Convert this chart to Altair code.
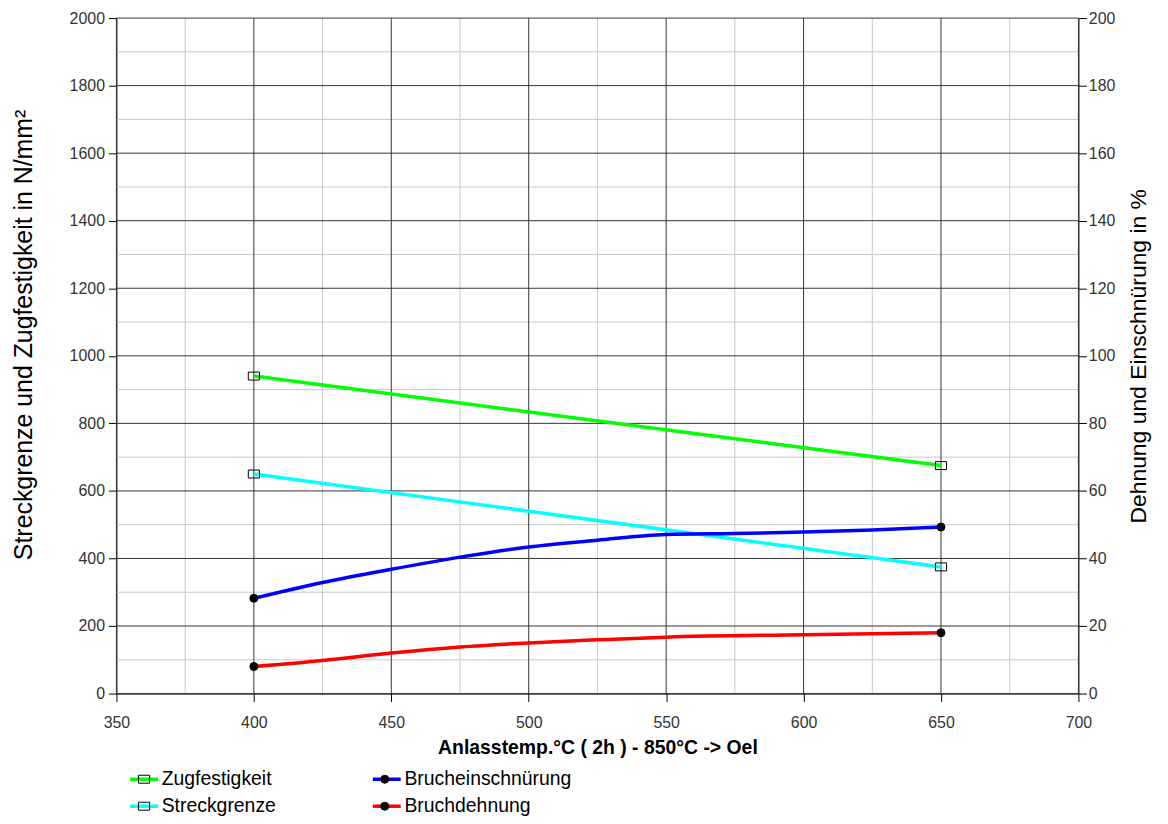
import altair as alt
import pandas as pd

# ---------------- data ----------------
series_order = ["Zugfestigkeit", "Streckgrenze", "Brucheinschnürung", "Bruchdehnung"]
series_colors = ["#00ff00", "#00ffff", "#0000ff", "#ff0000"]

zug_temp = [400, 650]
zug_values = [940, 675]
streck_temp = [400, 650]
streck_values = [650, 375]

einschn_temp = [400, 425, 450, 475, 500, 525, 550, 575, 600, 625, 650]
einschn_values = [28.2, 32.9, 36.8, 40.4, 43.4, 45.4, 47.1, 47.4, 47.8, 48.4, 49.3]
dehnung_temp = [400, 425, 450, 475, 500, 525, 550, 600, 650]
dehnung_values = [8.0, 9.8, 12.0, 13.8, 15.0, 15.9, 16.7, 17.4, 18.0]

x_ticks = [350, 375, 400, 425, 450, 475, 500, 525, 550, 575, 600, 625, 650, 675, 700]
x_labels = [350, 400, 450, 500, 550, 600, 650, 700]
left_ticks = [0, 100, 200, 300, 400, 500, 600, 700, 800, 900, 1000, 1100, 1200, 1300,
              1400, 1500, 1600, 1700, 1800, 1900, 2000]
left_labels = [0, 200, 400, 600, 800, 1000, 1200, 1400, 1600, 1800, 2000]
right_labels = [0, 20, 40, 60, 80, 100, 120, 140, 160, 180, 200]

x_title = "Anlasstemp.°C ( 2h ) - 850°C -> Oel"
left_title = "Streckgrenze und Zugfestigkeit in N/mm²"
right_title = "Dehnung und Einschnürung in %"

# ---------------- tables ----------------
def rows(name, ts, vs):
    return [{"series": name, "temp": t, "value": v} for t, v in zip(ts, vs)]

left_df = pd.DataFrame(rows("Zugfestigkeit", zug_temp, zug_values)
                       + rows("Streckgrenze", streck_temp, streck_values))
right_df = pd.DataFrame(rows("Brucheinschnürung", einschn_temp, einschn_values)
                        + rows("Bruchdehnung", dehnung_temp, dehnung_values))

def ends(name, ts, vs):
    # marker key carries a trailing space so its legend is kept apart from the line legend
    return [{"marker": name + " ", "temp": ts[i], "value": vs[i]} for i in (0, -1)]

left_mk = pd.DataFrame(ends("Zugfestigkeit", zug_temp, zug_values)
                       + ends("Streckgrenze", streck_temp, streck_values))
right_mk = pd.DataFrame(ends("Brucheinschnürung", einschn_temp, einschn_values)
                        + ends("Bruchdehnung", dehnung_temp, dehnung_values))

minor_x = pd.DataFrame({"g": [t for t in x_ticks if t not in x_labels]})
major_x = pd.DataFrame({"g": x_labels})
minor_y = pd.DataFrame({"g": [t for t in left_ticks if t not in left_labels]})
major_y = pd.DataFrame({"g": left_labels})

marker_domain = [s + " " for s in series_order]
rect_path = "M-1.4,-1H1.4V1H-1.4Z"
shape_range = [rect_path, rect_path, "circle", "circle"]
fill_range = ["transparent", "transparent", "black", "black"]
stroke_range = ["black", "black", "black", "black"]

FONT = "Liberation Sans"
MAJOR = "#333333"
MINOR = "#c8c8c8"

x_scale = alt.Scale(domain=[350, 700], nice=False, zero=False)
left_scale = alt.Scale(domain=[0, 2000], nice=False)
right_scale = alt.Scale(domain=[0, 200], nice=False)

x_axis = alt.Axis(
    values=x_labels,
    format="d",
    grid=False,
    tickSize=8,
    labelFlush=False,
    title=x_title,
    titleFontWeight="bold",
    titleFontSize=19.5,
    titlePadding=8,
    labelPadding=13,
)
left_axis = alt.Axis(
    values=left_labels,
    format="d",
    grid=False,
    tickSize=8,
    labelFlush=False,
    title=left_title,
    titleFontSize=25,
    titleFontWeight="normal",
    titlePadding=33,
    titleY=318,
    labelPadding=4,
)
right_axis = alt.Axis(
    orient="right",
    values=right_labels,
    format="d",
    grid=False,
    tickSize=8,
    labelFlush=False,
    title=right_title,
    titleAngle=270,
    titleBaseline="top",
    titleFontSize=23,
    titleFontWeight="normal",
    titlePadding=13,
    labelPadding=2,
)

line_legend = alt.Legend(
    orient="none", legendX=8, legendY=755, columns=2, direction="vertical",
    title=None, symbolType="M-3.5,0H3.5", symbolSize=64, symbolStrokeWidth=3.5,
    symbolOffset=10, labelOffset=8, labelFontSize=19.5, labelFont=FONT, labelColor="black",
    labelLimit=400, rowPadding=6.5, columnPadding=89, padding=0, offset=0,
)
marker_legend = alt.Legend(
    orient="none", legendX=8, legendY=755, columns=2, direction="vertical",
    title=None, symbolSize=64, symbolStrokeWidth=1, symbolStrokeColor="black",
    symbolOffset=10, labelOffset=8, labelFontSize=19.5, labelFont=FONT,
    labelExpr="trim(datum.label)", labelOpacity=0, labelLimit=400,
    rowPadding=6.5, columnPadding=89, padding=0, offset=0,
)

color_enc = alt.Color("series:N", scale=alt.Scale(domain=series_order, range=series_colors),
                      legend=line_legend)
shape_enc = alt.Shape("marker:N", scale=alt.Scale(domain=marker_domain, range=shape_range),
                      legend=marker_legend)
fill_enc = alt.Fill("marker:N", scale=alt.Scale(domain=marker_domain, range=fill_range),
                    legend=marker_legend)
stroke_enc = alt.Stroke("marker:N", scale=alt.Scale(domain=marker_domain, range=stroke_range),
                        legend=marker_legend)

X_T = alt.X("temp:Q", scale=x_scale, axis=x_axis)
X_G = alt.X("g:Q", scale=x_scale, axis=x_axis)
YL_V = alt.Y("value:Q", scale=left_scale, axis=left_axis)
YL_G = alt.Y("g:Q", scale=left_scale, axis=left_axis)
YR_V = alt.Y("value:Q", scale=right_scale, axis=right_axis)

grid_minor_x = alt.Chart(minor_x).mark_rule(color=MINOR, strokeWidth=1).encode(x=X_G)
grid_major_x = alt.Chart(major_x).mark_rule(color=MAJOR, strokeWidth=1).encode(x=X_G)
grid_minor_y = alt.Chart(minor_y).mark_rule(color=MINOR, strokeWidth=1).encode(y=YL_G)
grid_major_y = alt.Chart(major_y).mark_rule(color=MAJOR, strokeWidth=1).encode(y=YL_G)

left_lines = alt.Chart(left_df).mark_line(strokeWidth=3.5).encode(
    x=X_T, y=YL_V, color=color_enc)
left_points = alt.Chart(left_mk).mark_point(size=64, strokeWidth=1, opacity=1).encode(
    x=X_T, y=YL_V, shape=shape_enc, fill=fill_enc, stroke=stroke_enc)
right_lines = alt.Chart(right_df).mark_line(strokeWidth=3.5, interpolate="monotone").encode(
    x=X_T, y=YR_V, color=color_enc)
right_points = alt.Chart(right_mk).mark_point(size=64, strokeWidth=1, opacity=1).encode(
    x=X_T, y=YR_V, shape=shape_enc, fill=fill_enc, stroke=stroke_enc)

left_group = alt.layer(grid_minor_x, grid_minor_y, grid_major_x, grid_major_y,
                       left_lines, left_points)
right_group = alt.layer(right_lines, right_points)

chart = (
    alt.layer(left_group, right_group)
    .resolve_scale(y="independent")
    .properties(
        width=967, height=679,
        padding={"left": 109, "top": 8, "right": 82, "bottom": 129},
        autosize=alt.AutoSizeParams(type="none"),
        background="white",
    )
    .configure_view(stroke=None)
    .configure_axis(
        labelFont=FONT, titleFont=FONT, labelFontSize=16, labelColor="#333333",
        titleColor="black", domainColor="black", tickColor="black",
    )
)

chart.save("out.html", embed_options={"renderer": "svg", "actions": False})
